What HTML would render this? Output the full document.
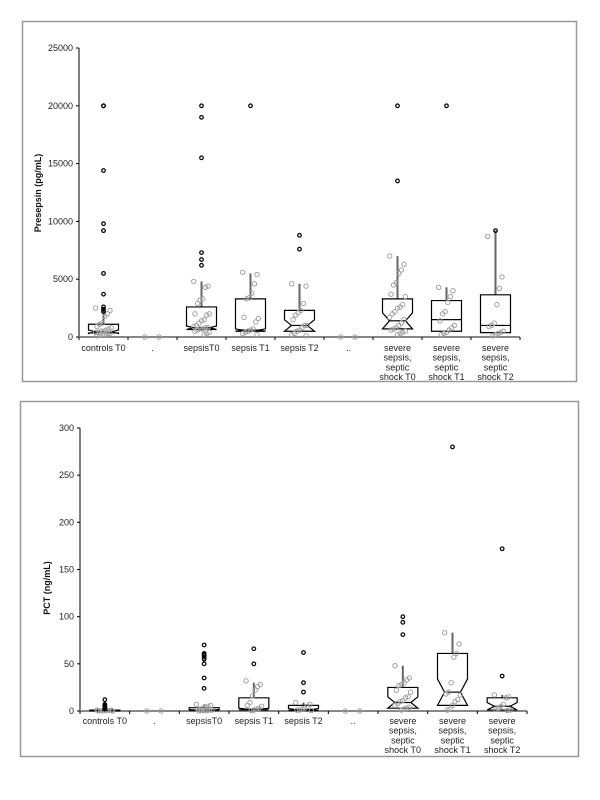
<!DOCTYPE html>
<html><head><meta charset="utf-8">
<style>
html,body{margin:0;padding:0;background:#fff;}
svg{display:block;font-family:"Liberation Sans",Arial,sans-serif;}
</style></head>
<body>
<svg id="chart" width="600" height="800" viewBox="0 0 600 800" xmlns="http://www.w3.org/2000/svg">
<rect x="22.5" y="21.5" width="554" height="360" fill="#fff" stroke="#999" stroke-width="1.5"/>
<rect x="20.5" y="401.5" width="558" height="355" fill="#fff" stroke="#999" stroke-width="1.5"/>
<g id="top"></g>
<g id="bot"></g>
</svg>
<script>
// shared categories
const categories = [["controls T0"],["."],["sepsisT0"],["sepsis T1"],["sepsis T2"],[".."],["severe","sepsis,","septic","shock T0"],["severe","sepsis,","septic","shock T1"],["severe","sepsis,","septic","shock T2"]];

// Presepsin (pg/mL)
const preTicks = [0,5000,10000,15000,20000,25000];
const preQ1 =     [350, null, 650, 500, 500, null, 700, 500, 380];
const preMed =    [450, null, 800, 600, 1000, null, 1400, 1500, 1000];
const preQ3 =     [1100, null, 2600, 3300, 2300, null, 3300, 3150, 3650];
const preWhisk =  [2600, null, 4800, 5500, 4600, null, 7000, 4300, 9200];
const preNotch =  [150, null, 150, 100, 500, null, 700, 0, 0];
const preOutliers = [[20000,20000,14400,9800,9200,5500,3700,2600,2400,2200],[],[20000,19000,15500,7300,6700,6200],[20000],[8800,7600],[],[20000,13500],[20000],[9200]];
const prePoints = [[2500,2300,2000,1800,1200,1100,900,800,700,600,500,500,400,400,300,300,200,200,150,100],[0,0],[4800,4400,4300,3300,3200,2900,2000,2000,1900,1500,1400,1200,1000,900,800,800,700,700,600,500,400,300,200],[5600,5400,4600,3800,3400,3300,1700,1600,1300,700,600,500,400,300,200],[4600,4400,2900,2300,2100,1900,1500,1000,1000,800,600,500,300,200,100],[0,0],[7000,6300,5800,5500,4700,4500,3700,3500,2800,2600,2500,2200,2000,1700,1500,1200,1000,800,700,600,500,400,300,200],[4300,4000,3500,3000,2200,2000,1400,1000,800,600,400,300,200],[8700,5200,4200,2800,1200,1000,900,500,400,300,200,100]];

// PCT (ng/mL)
const pctTicks = [0,50,100,150,200,250,300];
const pctQ1 =    [0.2, null, 0.5, 1, 0.5, null, 3, 6, 1];
const pctMed =   [0.5, null, 1, 2, 1.5, null, 9, 20, 5];
const pctQ3 =    [1, null, 3.5, 14, 6, null, 25, 61, 14];
const pctWhisk = [1.5, null, 7, 30, 9, null, 48, 83, 17];
const pctNotch = [0, null, 0.5, 1, 1, null, 6, 14, 4];
const pctOutliers = [[12,7,6,5,4,3,2],[],[70,61,60,59,57,55,50,35,24],[66,50],[62,30,20],[],[100,94,81],[280],[172,37]];
const pctPoints = [[1,1,0.5,0.5,0.3,0.2,0.2,0.1],[0,0],[7,6,5,4,3,2,2,1,1,0.5,0.5,0.3,0.2],[32,28,26,22,16,9,6,5,3,2,1,0.5],[9,7,5,3,2,1,1,0.5],[0,0],[48,35,33,30,28,27,22,20,15,14,11,10,8,6,4,3,2,1],[83,71,61,57,30,20,18,17,12,10,6,2,1],[17,15,14,7,5,3,2,1,0.5]];

const NS="http://www.w3.org/2000/svg";
function mk(parent,tag,attrs){const e=document.createElementNS(NS,tag);for(const k in attrs)e.setAttribute(k,attrs[k]);parent.appendChild(e);return e;}

function draw(g, cfg){
  const x0=cfg.x0,x1=cfg.x1,yTop=cfg.yTop,yBot=cfg.yBot,max=cfg.max;
  const n=categories.length, step=(x1-x0)/n;
  const y=v=>yBot-(v/max)*(yBot-yTop);
  const cx=i=>x0+step*(i+0.5);
  // y axis
  const ya=mk(g,'line',{x1:x0,y1:yTop,x2:x0,y2:yBot,stroke:'#000','stroke-width':1});
  
  
  cfg.ticks.forEach(t=>{
    const tk=mk(g,'line',{x1:x0-3,y1:y(t),x2:x0,y2:y(t),stroke:'#000'});
    
    
    const tl=mk(g,'text',{x:x0-6,y:y(t)+3,'text-anchor':'end','font-size':9,fill:'#222'});
    tl.textContent=t;
    
    
  });
  const yt=mk(g,'text',{x:0,y:0,'font-size':9,'font-weight':'bold',fill:'#111','text-anchor':'middle',transform:`translate(${cfg.titleX},${cfg.titleY}) rotate(-90)`});
  yt.textContent=cfg.title;
  
  
  // x axis
  const xa=mk(g,'line',{x1:x0,y1:yBot,x2:x1,y2:yBot,stroke:'#888','stroke-width':2});
  
  
  for(let i=0;i<=n;i++){
    const tk=mk(g,'line',{x1:x0+step*i,y1:yBot,x2:x0+step*i,y2:yBot+3,stroke:'#000'});
    
    
  }
  categories.forEach((lines,i)=>{
    const t=mk(g,'text',{x:cx(i),y:yBot+cfg.labelDy,'text-anchor':'middle','font-size':9,fill:'#222'});
    
    
    lines.forEach((ln,k)=>{const s=mk(t,'tspan',{x:cx(i),dy:k?9.7:0});s.textContent=ln;});
  });
  // boxes
  for(let i=0;i<n;i++){
    const c=cx(i);
    if(cfg.q3[i]!=null){
      const wl=mk(g,'line',{x1:c,y1:y(cfg.q3[i]),x2:c,y2:y(cfg.wh[i]),stroke:'#666','stroke-width':2});
      
      
      const h=15,hi=8;
      const q1=y(cfg.q1[i]),q3=y(cfg.q3[i]),m=y(cfg.med[i]);
      const nlo=y(cfg.med[i]-cfg.notch[i]),nhi=y(cfg.med[i]+cfg.notch[i]);
      const pts=[[c-h,q3],[c+h,q3],[c+h,nhi],[c+hi,m],[c+h,nlo],[c+h,q1],[c-h,q1],[c-h,nlo],[c-hi,m],[c-h,nhi]];
      const bx=mk(g,'polygon',{points:pts.map(p=>p.join(',')).join(' '),fill:'none',stroke:'#000','stroke-width':1.2});
      
      
      const md=mk(g,'line',{x1:c-hi,y1:m,x2:c+hi,y2:m,stroke:'#000','stroke-width':1.2});
      
      
    }
    cfg.pts[i].forEach((v,k)=>{
      const jx=((k*37)%13-6)*1.3;
      const p=mk(g,'circle',{cx:c+jx,cy:y(v),r:2.2,fill:'none',stroke:'#a0a0a0','stroke-width':1});
      
      
    });
    cfg.out[i].forEach(v=>{
      const o=mk(g,'circle',{cx:c,cy:y(v),r:1.8,fill:'none',stroke:'#000','stroke-width':1.2});
      
      
    });
  }
}
draw(document.getElementById('top'),{x0:79,x1:520,yTop:48,yBot:337,max:25000,ticks:preTicks,title:'Presepsin (pg/mL)',titleX:41,titleY:193,labelDy:14,q1:preQ1,med:preMed,q3:preQ3,wh:preWhisk,notch:preNotch,out:preOutliers,pts:prePoints});
draw(document.getElementById('bot'),{x0:80,x1:527,yTop:428,yBot:711,max:300,ticks:pctTicks,title:'PCT (ng/mL)',titleX:50,titleY:588,labelDy:13,q1:pctQ1,med:pctMed,q3:pctQ3,wh:pctWhisk,notch:pctNotch,out:pctOutliers,pts:pctPoints});
</script>
</body></html>
